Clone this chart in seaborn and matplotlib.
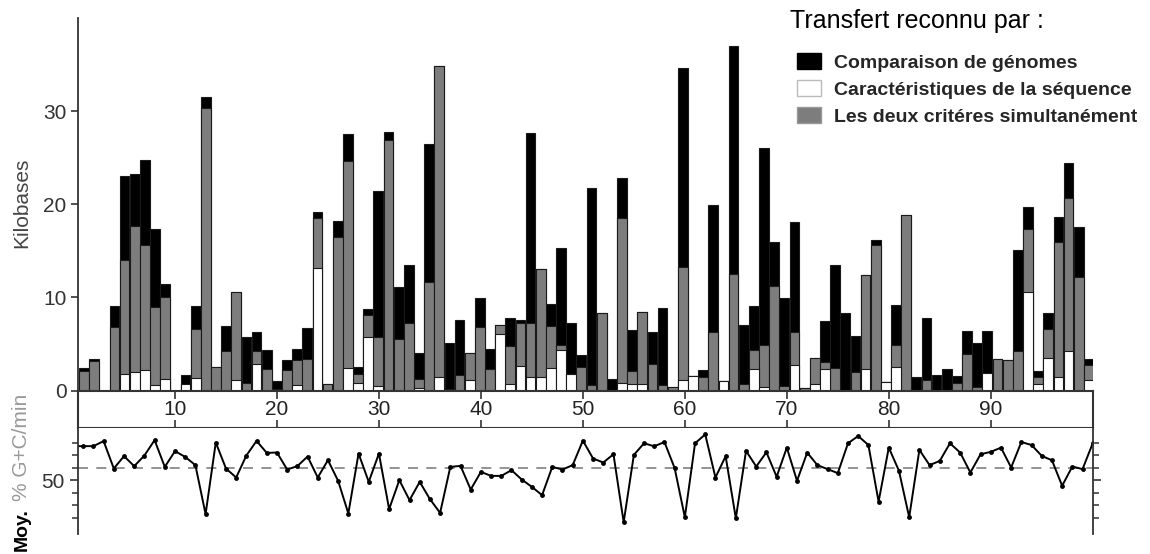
import numpy as np
import pandas as pd
import seaborn as sns
import matplotlib.pyplot as plt
from matplotlib.patches import Patch

# Kilobases of transferred DNA per minute of the map (stack: white / gray / black)
minutes = list(range(1, 101))
seq_only = [0, 0, 0, 0, 1.8, 2.0, 2.15, 0.6, 1.2, 0,
            0.7, 1.3, 0, 0, 0, 1.1, 0, 2.8, 0, 0.2,
            0, 0.6, 0, 13.2, 0, 0, 2.4, 0.8, 5.8, 0.5,
            0, 0, 0, 0.3, 0, 1.4, 0, 0, 1.1, 0,
            0, 6.1, 0.75, 2.6, 1.4, 1.4, 2.4, 4.3, 1.8, 0,
            0, 0, 0, 0.8, 0.7, 0.7, 0, 0, 0, 1.1,
            1.6, 0, 0, 1.0, 0, 0, 2.3, 0.35, 0, 0,
            2.7, 0, 0.7, 2.3, 0, 0, 0, 2.3, 0, 0.9,
            2.5, 0, 0, 0, 0, 0, 0, 0, 0, 1.9,
            0, 0, 0, 10.6, 0.65, 3.5, 1.4, 4.2, 0, 1.1]
both = [2.1, 3.15, 0, 6.8, 12.2, 15.7, 13.45, 8.4, 8.8, 0,
        0, 5.3, 30.3, 2.5, 4.2, 9.5, 0.8, 1.4, 2.3, 0,
        2.2, 2.7, 3.4, 5.3, 0.7, 16.5, 22.2, 1.0, 2.3, 5.3,
        26.9, 5.5, 7.2, 0.95, 11.6, 33.4, 0.2, 1.7, 2.9, 6.8,
        2.3, 0.9, 4.05, 4.7, 5.9, 11.7, 4.5, 0.6, 0, 2.5,
        0.6, 8.35, 0, 17.7, 1.4, 7.75, 2.8, 0.6, 0.35, 12.2,
        0, 1.4, 6.3, 0, 12.5, 0.7, 2.0, 4.55, 11.2, 0.5,
        3.6, 0.3, 2.8, 0.75, 2.4, 0, 2.0, 10.1, 15.6, 0,
        2.4, 18.8, 0, 1.1, 0, 0, 0.8, 3.9, 0.35, 0,
        3.35, 3.3, 4.2, 6.7, 0.75, 3.1, 14.6, 16.5, 12.2, 1.6]
genome_only = [0.3, 0.25, 0, 2.27, 9.0, 5.6, 9.2, 8.3, 1.4, 0,
               1.0, 2.47, 1.2, 0, 2.7, 0, 5.0, 2.1, 2.1, 0.8,
               1.1, 1.2, 3.3, 0.7, 0, 1.7, 2.9, 0.7, 0.6, 15.6,
               0.9, 5.6, 6.3, 2.75, 14.9, 0, 4.85, 5.9, 0, 3.1,
               2.2, 0, 3.0, 0.3, 20.4, 0, 2.4, 10.4, 5.5, 1.3,
               21.1, 0, 1.25, 4.3, 4.35, 0, 3.5, 8.25, 0, 21.3,
               0, 0.75, 13.6, 0, 24.5, 6.3, 4.77, 21.1, 4.8, 9.4,
               11.8, 0, 0, 4.4, 11.1, 8.3, 3.9, 0, 0.6, 0,
               4.3, 0, 1.5, 6.7, 1.7, 2.3, 0.75, 2.5, 4.7, 4.5,
               0, 0, 10.85, 2.4, 0.7, 1.75, 2.6, 3.7, 5.4, 0.7]

# Average G+C content per minute
gc_minutes = list(range(0, 101))
gc_pct = [52.71, 52.71, 52.71, 53.11, 50.92, 51.91, 51.11, 51.96, 53.19, 51.05,
          52.31, 51.85, 51.19, 47.27, 53.0, 50.92, 50.2, 51.96, 53.13, 52.17,
          52.2, 50.84, 51.11, 51.88, 50.2, 51.59, 49.93, 47.32, 52.12, 49.85,
          52.12, 47.67, 49.99, 48.39, 49.85, 48.47, 47.37, 51.05, 51.13, 49.24,
          50.65, 50.33, 50.33, 50.79, 50.04, 49.45, 48.79, 51.05, 50.84, 51.19,
          53.15, 51.72, 51.40, 52.06, 46.62, 52.01, 52.94, 52.70, 53.04, 50.95,
          47.02, 52.94, 53.65, 50.20, 51.90, 46.94, 52.33, 51.08, 52.22, 50.26,
          52.59, 49.94, 52.19, 51.19, 50.87, 50.55, 52.94, 53.52, 52.80, 48.27,
          52.59, 50.73, 47.02, 52.41, 51.19, 51.53, 52.94, 52.19, 50.60, 52.06,
          52.25, 52.59, 51.00, 53.04, 52.80, 51.93, 51.58, 49.54, 51.08, 50.87,
          52.94]
gc_mean = 51.0

strip_ticks = [10, 20, 30, 40, 50, 60, 70, 80, 90]

df = pd.DataFrame({'minute': minutes, 'white': seq_only, 'gray': both, 'black': genome_only})
df['top_white'] = df['white']
df['top_gray'] = df['white'] + df['gray']
df['top_black'] = df['top_gray'] + df['black']

sns.set_style('white')
plt.rcParams['font.family'] = ['Liberation Sans', 'DejaVu Sans']

fig = plt.figure(figsize=(11.5, 5.54), dpi=100)
L, W = 0.0674, 0.8828
ax_bar = fig.add_axes([L, 0.2951, W, 0.6724])
ax_strip = fig.add_axes([L, 0.2283, W, 0.0668])
ax_gc = fig.add_axes([L, 0.0361, W, 0.1922])

# stacked bars: draw cumulative heights from the tallest layer down
for col, fc in [('top_black', 'black'), ('top_gray', '#7d7d7d'), ('top_white', 'white')]:
    sns.barplot(data=df, x='minute', y=col, native_scale=True, color=fc, saturation=1,
                width=0.96, edgecolor='#1a1a1a', linewidth=0.8, errorbar=None, ax=ax_bar)
ax_bar.set_xlim(0.36, 100.38)
ax_bar.set_ylim(0, 40)
ax_bar.set_yticks([0, 10, 20, 30])
ax_bar.set_xticks([])
ax_bar.set_xlabel('')
ax_bar.set_ylabel('')
for s in ['top', 'right', 'bottom']:
    ax_bar.spines[s].set_visible(False)
ax_bar.spines['left'].set_color('#333333')
ax_bar.spines['left'].set_linewidth(1.3)
ax_bar.tick_params(axis='y', direction='out', length=5, width=1.2, color='#333333',
                   labelsize=15, labelcolor='#333333', left=True, pad=3)

# minute label strip
ax_strip.set_xlim(0.44, 100)
ax_strip.set_ylim(0, 1)
ax_strip.set_yticks([])
ax_strip.set_xticks(strip_ticks)
ax_strip.tick_params(axis='x', direction='in', length=6, width=1.2, color='#333333',
                     top=True, bottom=True, labelbottom=False)
for s in ax_strip.spines.values():
    s.set_color('#333333')
    s.set_linewidth(1.5)
for t in strip_ticks:
    ax_strip.text(t, 0.5, str(t), transform=ax_strip.get_xaxis_transform(),
                  ha='center', va='center', fontsize=15, color='#222222')

# G+C panel
sns.lineplot(x=gc_minutes, y=gc_pct, color='black', linewidth=1.4, marker='o',
             markersize=3.5, markeredgewidth=0, ax=ax_gc)
ax_gc.axhline(gc_mean, color='#808080', linestyle=(0, (6, 5)), linewidth=1.2, zorder=0)
ax_gc.set_xlim(0.44, 100)
ax_gc.set_ylim(45.68, 54.2)
ax_gc.set_xticks([])
ax_gc.set_yticks([50])
ax_gc.set_yticklabels(['50'])
ax_gc.set_yticks([47, 48, 49, 51, 52, 53], minor=True)
ax_gc.spines['top'].set_visible(False)
ax_gc.spines['bottom'].set_visible(False)
for s in ['left', 'right']:
    ax_gc.spines[s].set_color('#333333')
    ax_gc.spines[s].set_linewidth(1.3)
ax_gc.tick_params(axis='y', which='major', direction='out', length=6, width=1.2,
                  color='#333333', left=True, right=True, labelsize=15,
                  labelcolor='#333333', pad=3)
ax_gc.tick_params(axis='y', which='minor', direction='out', length=4, width=1.1,
                  color='#333333', left=True, right=True)

# side labels
fig.text(22 / 1150, 1 - 203 / 554, 'Kilobases', rotation=90, ha='center', va='center',
         fontsize=15, color='#444444')
fig.text(22 / 1150, 1 - 447 / 554, '% G+C/min', rotation=90, ha='center', va='center',
         fontsize=15, color='#999999')
fig.text(22 / 1150, 1 - 530 / 554, 'Moy.', rotation=90, ha='center', va='center',
         fontsize=14, fontweight='bold', color='black')

# legend
fig.text(790 / 1150, 1 - 21 / 554, 'Transfert reconnu par :', ha='left', va='center',
         fontsize=18, color='black')
handles = [Patch(facecolor='black', edgecolor='black'),
           Patch(facecolor='white', edgecolor='#bbbbbb'),
           Patch(facecolor='#7d7d7d', edgecolor='#999999')]
labels = ['Comparaison de génomes', 'Caractéristiques de la séquence',
          'Les deux critéres simultanément']
fig.legend(handles, labels, loc='upper left', bbox_to_anchor=(797 / 1150, 1 - 53 / 554),
           frameon=False, borderpad=0, borderaxespad=0, handlelength=1.25, handleheight=0.9,
           handletextpad=0.65, labelspacing=0.43,
           prop={'weight': 'bold', 'size': 14})

plt.savefig('out.png', dpi=100)
